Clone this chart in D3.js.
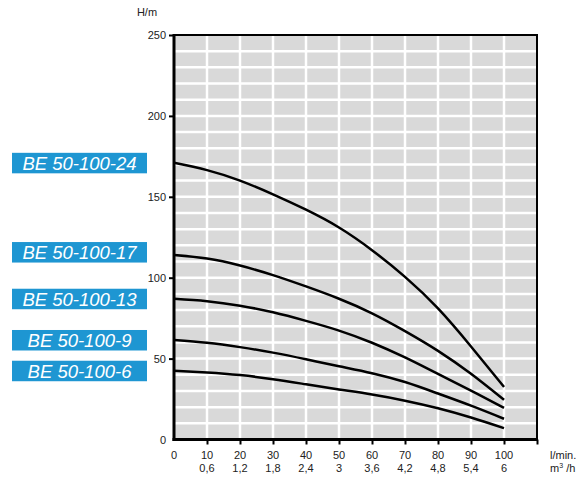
<!DOCTYPE html>
<html>
<head>
<meta charset="utf-8">
<script src="https://cdn.jsdelivr.net/npm/d3@7"></script>
<style>
  body { margin: 0; background: #fff; }
  svg text { font-family: 'Liberation Sans', Arial, sans-serif; }
</style>
</head>
<body>
<div class="canvas"></div>
<script>
// flow (l/min) and the matching m3/h tick labels
const flow = [0, 10, 20, 30, 40, 50, 60, 70, 80, 90, 100]
const flowM3h = ['', '0,6', '1,2', '1,8', '2,4', '3', '3,6', '4,2', '4,8', '5,4', '6']
const headTicks = [0, 50, 100, 150, 200, 250]

const models = ['BE 50-100-24', 'BE 50-100-17', 'BE 50-100-13', 'BE 50-100-9', 'BE 50-100-6']
const head24 = [171, 166.5, 160, 151.5, 142, 131, 117, 100.5, 81, 57.5, 32.5]
const head17 = [114, 111.8, 107.5, 101.6, 94.6, 87, 78, 67, 54.8, 40.6, 24.5]
const head13 = [87, 85.5, 82.7, 78.6, 73.3, 67.3, 59.8, 50.7, 40.5, 30.2, 19.5]
const head9 = [61.5, 59.8, 57.1, 53.7, 49.6, 45.3, 41, 35.5, 28.4, 20.9, 12.8]
const head6 = [42.5, 41.4, 39.8, 37.3, 34.1, 30.9, 27.8, 24, 19.3, 13.6, 7]

const series = [head24, head17, head13, head9, head6]

const dims = { width: 580, height: 484 }
const plot = { left: 174, right: 537, top: 35, bottom: 439.5 }

const svg = d3.select('.canvas')
  .append('svg')
    .attr('width', dims.width)
    .attr('height', dims.height)

const x = d3.scaleLinear().domain([0, 110]).range([plot.left, plot.right])
const y = d3.scaleLinear().domain([0, 250]).range([plot.bottom, plot.top])

// grey background with white grid
svg.append('rect')
  .attr('x', plot.left)
  .attr('y', plot.top)
  .attr('width', plot.right - plot.left)
  .attr('height', plot.bottom - plot.top)
  .attr('fill', '#d9d9d9')

svg.append('g')
  .selectAll('line')
  .data(d3.range(10, 110, 10))
  .join('line')
    .attr('x1', d => x(d)).attr('x2', d => x(d))
    .attr('y1', plot.top).attr('y2', plot.bottom)
    .attr('stroke', '#fff')
    .attr('stroke-width', 2.5)

svg.append('g')
  .selectAll('line')
  .data(d3.range(10, 250, 10))
  .join('line')
    .attr('y1', d => y(d)).attr('y2', d => y(d))
    .attr('x1', plot.left).attr('x2', plot.right)
    .attr('stroke', '#fff')
    .attr('stroke-width', 2.5)

// frame: top and right thinner
svg.append('path')
  .attr('d', `M${plot.left},${plot.top}H${plot.right}V${plot.bottom}`)
  .attr('fill', 'none')
  .attr('stroke', '#000')
  .attr('stroke-width', 2)

// y axis
const yAxis = svg.append('g')
  .attr('transform', `translate(${plot.left},0)`)
  .call(d3.axisLeft(y).tickValues(headTicks).tickSize(5).tickPadding(3))
yAxis.select('.domain').attr('stroke-width', 3).attr('d', `M0,${plot.top - 1}V${plot.bottom + 1.5}`)
yAxis.selectAll('.tick line').attr('stroke-width', 2)
yAxis.selectAll('.tick text')
  .attr('font-size', 11)
  .attr('fill', '#222')
  .attr('font-family', "'Liberation Sans', Arial, sans-serif")
yAxis.selectAll('.tick').filter(d => d === 0).select('line').remove()

// x axis
const xAxis = svg.append('g')
  .attr('transform', `translate(0,${plot.bottom})`)
  .call(d3.axisBottom(x).tickValues(d3.range(10, 120, 10)).tickSize(5).tickFormat(''))
xAxis.select('.domain').attr('stroke-width', 3).attr('d', `M${plot.left - 1.5},0H${plot.right + 1}`)
xAxis.selectAll('.tick line').attr('stroke-width', 2)

const xLabels = svg.append('g')
  .attr('font-size', 11)
  .attr('fill', '#222')
  .attr('text-anchor', 'middle')

xLabels.selectAll('text.lmin')
  .data(flow)
  .join('text')
    .attr('class', 'lmin')
    .attr('x', d => x(d))
    .attr('y', 459)
    .text(d => d)

xLabels.selectAll('text.m3h')
  .data(flowM3h)
  .join('text')
    .attr('class', 'm3h')
    .attr('x', (d, i) => x(flow[i]))
    .attr('y', 472)
    .text(d => d)

svg.append('text')
  .attr('x', 550).attr('y', 459)
  .attr('font-size', 11).attr('fill', '#222')
  .text('l/min.')

const m3 = svg.append('text')
  .attr('x', 550).attr('y', 472)
  .attr('font-size', 11).attr('fill', '#222')
m3.append('tspan').text('m')
m3.append('tspan').attr('font-size', 7).attr('dy', -4).text('3')
m3.append('tspan').attr('dy', 4).text(' /h')

svg.append('text')
  .attr('x', 147).attr('y', 16)
  .attr('text-anchor', 'middle')
  .attr('font-size', 11).attr('fill', '#222')
  .text('H/m')

// curves
const line = d3.line()
  .x((d, i) => x(flow[i]))
  .y(d => y(d))
  .curve(d3.curveNatural)

svg.append('g')
  .selectAll('path')
  .data(series)
  .join('path')
    .attr('d', line)
    .attr('fill', 'none')
    .attr('stroke', '#000')
    .attr('stroke-width', 2.5)

// model labels, placed at the start of each curve (tag 17 nudged up a bit as in the original)
const labels = svg.append('g')
  .selectAll('g')
  .data(models)
  .join('g')
    .attr('transform', (d, i) => `translate(12,${y(series[i][0]) - (i === 1 ? 13 : 10)})`)

labels.append('rect')
  .attr('width', 135)
  .attr('height', 20.5)
  .attr('fill', '#1e96d2')

labels.append('text')
  .attr('x', 67.5)
  .attr('y', 16.8)
  .attr('text-anchor', 'middle')
  .attr('font-size', 18.5)
  .attr('font-style', 'italic')
  .attr('fill', '#fff')
  .text(d => d)
</script>
</body>
</html>
